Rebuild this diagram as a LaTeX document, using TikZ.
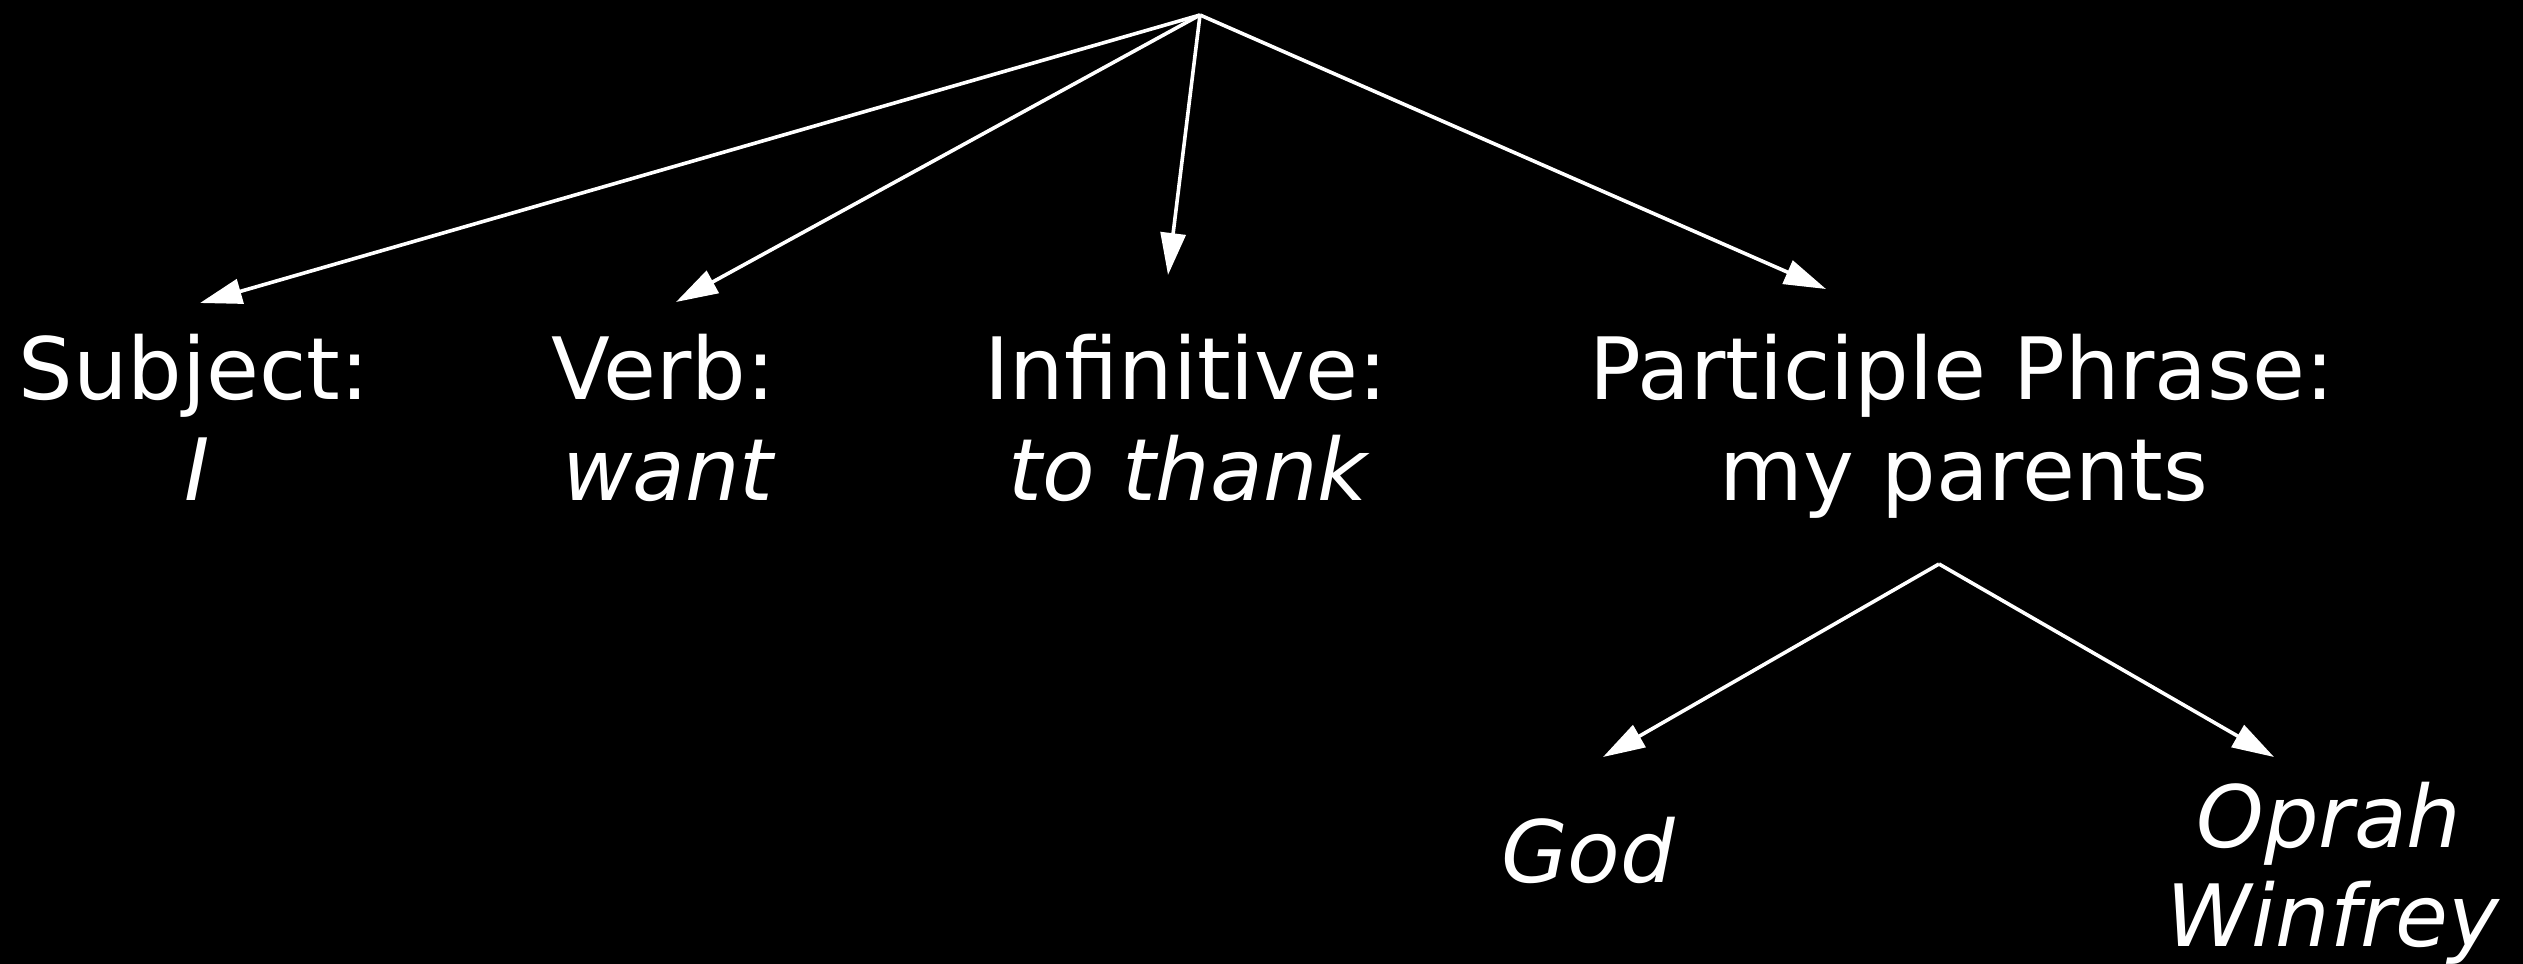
\documentclass[tikz,border=0pt]{standalone}
\usepackage{fontspec}
\setmainfont{DejaVu Sans}
\usetikzlibrary{arrows.meta}
\begin{document}
\begin{tikzpicture}[x=0.5pt,y=-0.5pt,
  lbl/.style={text=white,inner sep=0pt,anchor=base,font=\fontsize{43}{50}\selectfont},
  ilbl/.style={lbl,font=\fontsize{43}{50}\selectfont\itshape},
  arr/.style={draw=white,line width=1.8pt,-{Triangle[length=21pt,width=12.5pt]}}]
\fill[black] (0,0) rectangle (2523,964);
\useasboundingbox (0,0) rectangle (2523,964);
% root points
\coordinate (root) at (1200,15);
\coordinate (root2) at (1939,564);
% labels
\node[lbl] (subj) at (194,399) {Subject:};
\node[ilbl] (subjI) at (197,500) {I};
\node[lbl] (verb) at (663,399) {Verb:};
\node[ilbl] (verbW) at (668,500) {want};
\node[lbl] (inf) at (1186,399) {Infinitive:};
\node[ilbl] (infT) at (1188,500) {to thank};
\node[lbl] (part) at (1962,399) {Participle Phrase:};
\node[lbl] (partM) at (1964,500) {my parents};
\node[ilbl] (god) at (1588,882) {God};
\node[ilbl] (oprah) at (2329,847) {Oprah};
\node[ilbl] (winfrey) at (2333,946) {Winfrey};
% arrow tips
\coordinate (t1) at (200,303);
\coordinate (t2) at (676,302);
\coordinate (t3) at (1168,275);
\coordinate (t4) at (1826,289);
\coordinate (t5) at (1603,757);
\coordinate (t6) at (2274,757);
\draw[arr] (root) -- (t1);
\draw[arr] (root) -- (t2);
\draw[arr] (root) -- (t3);
\draw[arr] (root) -- (t4);
\draw[arr] (root2) -- (t5);
\draw[arr] (root2) -- (t6);
\end{tikzpicture}
\end{document}
